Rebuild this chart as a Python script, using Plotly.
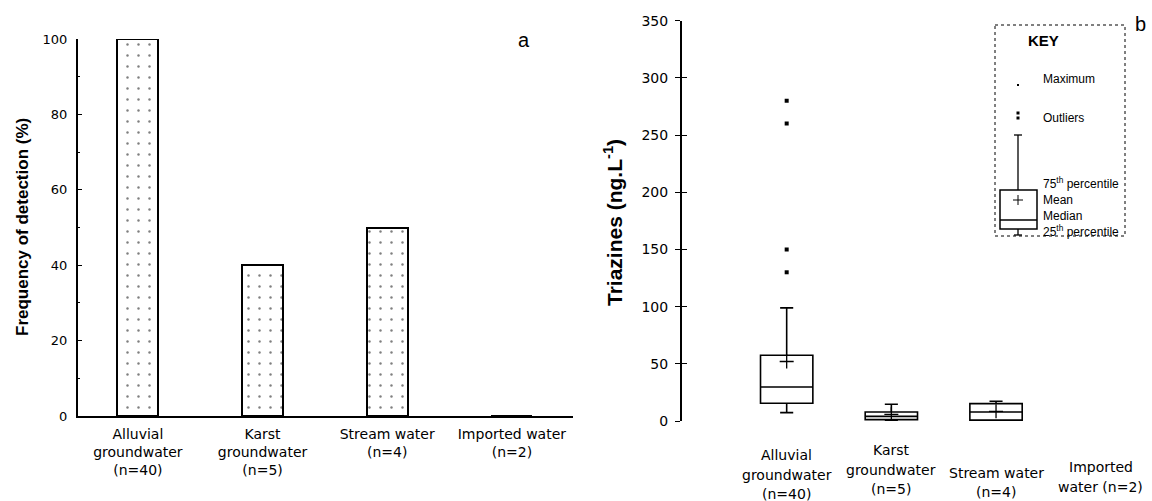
import plotly.graph_objects as go

W, H = 1152, 501

# ---------------- data ----------------
bar_categories = ["Alluvial<br>groundwater<br>(n=40)", "Karst<br>groundwater<br>(n=5)",
                  "Stream water<br>(n=4)", "Imported water<br>(n=2)"]
detection_freq = [100, 40, 50, 0]

box_categories = ["Alluvial", "Karst", "Stream", "Imported"]
box_q1 = [15.5, 1.2, 0.8]
box_median = [29.7, 4.0, 7.9]
box_q3 = [57.5, 7.9, 15.2]
box_lower = [7.3, 0.5, 0.5]
box_upper = [98.9, 14.6, 17.2]
box_mean = [52.0, 5.8, 8.5]
outlier_x = ["Alluvial", "Alluvial", "Alluvial", "Alluvial"]
outlier_y = [130, 150, 260, 280]

box_label_lines = [["Alluvial", "groundwater", "(n=40)"],
                   ["Karst", "groundwater", "(n=5)"],
                   ["Stream water", "(n=4)"],
                   ["Imported", "water (n=2)"]]
box_label_y = [[455, 475, 494], [450, 470, 489], [473, 492], [467, 487]]

y1_ticks = [0, 20, 40, 60, 80, 100]
y2_ticks = [0, 50, 100, 150, 200, 250, 300, 350]


def px(x):
    return x / W


def py(y):
    return 1 - y / H


TICKFONT = dict(family="DejaVu Sans", size=13, color="black")

fig = go.Figure()

# ---------------- panel a: bars ----------------
fig.add_trace(go.Bar(
    x=bar_categories, y=detection_freq, width=0.33,
    marker=dict(color="white",
                line=dict(color="black", width=2),
                pattern=dict(shape=".", fgcolor="black", bgcolor="white",
                             size=11, solidity=0.04)),
    xaxis="x", yaxis="y", showlegend=False))

# ---------------- panel b: boxes ----------------
fig.add_trace(go.Box(
    x=box_categories[:3], q1=box_q1, median=box_median, q3=box_q3,
    lowerfence=box_lower, upperfence=box_upper,
    fillcolor="white", line=dict(color="black", width=1.6),
    width=0.5, whiskerwidth=0.25, boxpoints=False,
    xaxis="x2", yaxis="y2", showlegend=False))

fig.add_trace(go.Scatter(
    x=box_categories[:3], y=box_mean, mode="markers",
    marker=dict(symbol="cross-thin", size=10, line=dict(color="black", width=1.3)),
    xaxis="x2", yaxis="y2", showlegend=False))

fig.add_trace(go.Scatter(
    x=outlier_x, y=outlier_y, mode="markers",
    marker=dict(symbol="square", size=4, color="black"),
    xaxis="x2", yaxis="y2", showlegend=False))

# ---------------- annotations ----------------
ann = []
def note(x, y, text, size, family="Liberation Sans", **kw):
    d = dict(x=px(x), y=py(y), xref="paper", yref="paper", text=text,
             showarrow=False, xanchor="center", yanchor="middle",
             font=dict(family=family, size=size, color="black"))
    d.update(kw)
    ann.append(d)

note(22, 227, "<b>Frequency of detection (%)</b>", 17, textangle=-90)
note(613, 223, "<b>Triazines (ng.L<sup>-1</sup>)</b>", 21, textangle=-90)
note(524, 40, "a", 20)
note(1140, 24, "b", 20)

for cat, lines, ys in zip(box_categories, box_label_lines, box_label_y):
    for t, yy in zip(lines, ys):
        ann.append(dict(x=cat, y=py(yy), xref="x2", yref="paper", text=t,
                        showarrow=False, xanchor="center", yanchor="middle",
                        font=dict(family="DejaVu Sans", size=14, color="black")))

# key text
note(1043, 40, "<b>KEY</b>", 15)
for t, yy in [("Maximum", 79), ("Outliers", 118), ("75<sup>th</sup> percentile", 183),
              ("Mean", 200), ("Median", 216), ("25<sup>th</sup> percentile", 231)]:
    note(1041, yy, t, 12, xanchor="left")

# key shapes
shapes = []
def rect(x0, y0, x1, y1, **kw):
    shapes.append(dict(type="rect", xref="paper", yref="paper",
                       x0=px(x0), x1=px(x1), y0=py(y0), y1=py(y1), **kw))

def line(x0, y0, x1, y1, w=1.3):
    shapes.append(dict(type="line", xref="paper", yref="paper",
                       x0=px(x0), x1=px(x1), y0=py(y0), y1=py(y1),
                       line=dict(color="black", width=w)))

rect(995, 25, 1125, 236, line=dict(color="black", width=1, dash="dot"))
rect(1000, 190, 1037, 229, line=dict(color="black", width=1.5))
line(1000, 220, 1037, 220)
line(1018, 190, 1018, 135)
line(1014, 135, 1022, 135)
line(1018, 229, 1018, 235)
line(1014, 235, 1022, 235)
line(1013, 200, 1023, 200, w=1)
line(1018, 195, 1018, 205, w=1)
rect(1017, 84, 1019, 86, fillcolor="black", line=dict(width=0))
rect(1016.5, 111.5, 1019.5, 114.5, fillcolor="black", line=dict(width=0))
rect(1016.5, 116.5, 1019.5, 119.5, fillcolor="black", line=dict(width=0))

fig.update_layout(
    width=W, height=H,
    margin=dict(l=0, r=0, t=0, b=0, autoexpand=False),
    paper_bgcolor="white", plot_bgcolor="white",
    showlegend=False,
    bargap=0,
    xaxis=dict(domain=[px(78), px(573)], range=[-0.48, 3.49], type="category",
               categoryorder="array", categoryarray=bar_categories,
               showline=True, linecolor="black", linewidth=1.5, ticks="",
               showgrid=False, zeroline=False, anchor="y", automargin=False,
               tickfont=dict(family="DejaVu Sans", size=14, color="black"),
               ticklabelstandoff=4),
    yaxis=dict(domain=[py(416), py(39)], range=[0, 100], tickvals=y1_ticks,
               showline=True, linecolor="black", linewidth=2,
               ticks="inside", ticklen=4, tickwidth=1.2, tickcolor="black",
               minor=dict(dtick=10, ticks="inside", ticklen=2, tickcolor="black"),
               showgrid=False, zeroline=False, anchor="x", automargin=False,
               tickfont=TICKFONT, ticklabelstandoff=6),
    xaxis2=dict(domain=[px(682), 1.0], range=[-1.0, 3.49], type="category",
                categoryorder="array", categoryarray=box_categories,
                showline=False, ticks="", showticklabels=False, automargin=False,
                showgrid=False, zeroline=False, anchor="y2"),
    yaxis2=dict(domain=[py(421), py(20.6)], range=[0, 350], tickvals=y2_ticks,
                showline=True, linecolor="black", linewidth=2,
                ticks="outside", ticklen=5, tickwidth=1.2, tickcolor="black",
                showgrid=False, zeroline=False, anchor="x2", automargin=False,
                tickfont=dict(family="DejaVu Sans", size=14, color="black"),
                ticklabelstandoff=4),
    yaxis3=dict(domain=[py(421), py(20.6)], range=[0, 350], tickvals=y2_ticks,
                overlaying="y2", anchor="x2", side="left", automargin=False,
                showline=False, ticks="inside", ticklen=5, tickwidth=1.2,
                tickcolor="black", showticklabels=False, showgrid=False,
                zeroline=False),
    annotations=ann,
    shapes=shapes,
)

# empty trace so yaxis3 renders
fig.add_trace(go.Scatter(x=[None], y=[None], xaxis="x2", yaxis="y3",
                         showlegend=False, hoverinfo="skip"))

fig.write_html("out.html",
               config={"displayModeBar": False},
               post_script="document.body.style.margin='0px';"
                           "document.body.style.overflow='hidden';")
